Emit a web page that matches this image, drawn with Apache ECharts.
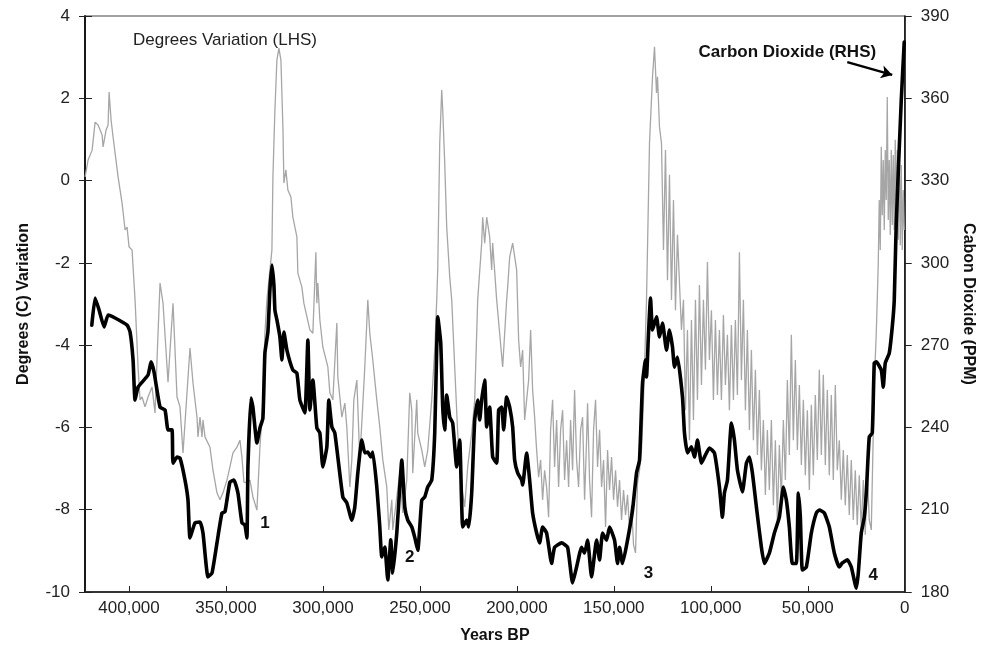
<!DOCTYPE html>
<html>
<head>
<meta charset="utf-8">
<script src="https://cdn.jsdelivr.net/npm/echarts@6/dist/echarts.min.js"></script>
<style>
  html, body { margin: 0; padding: 0; background: #fff; }
  #chart { width: 984px; height: 658px; }
</style>
</head>
<body>
<div id="chart"></div>
<script>
// Vostok ice core: temperature variation (left axis) and CO2 (right axis) against years before present
const yearTicks = [0, 50000, 100000, 150000, 200000, 250000, 300000, 350000, 400000];
const tempTicks = [-10, -8, -6, -4, -2, 0, 2, 4];
const co2Ticks = [180, 210, 240, 270, 300, 330, 360, 390];

// [years BP, degrees C variation]
const tempRecord = [
  [422640,0.09],[421100,0.5],[419030,0.74],[417490,1.42],[415940,1.35],[413880,1.11],[413370,0.82],[411820,1.23],
  [410790,1.35],[410280,2.15],[409250,1.47],[408220,1.06],[405640,0.09],[403580,-0.55],[402030,-1.2],[401010,-1.13],
  [399980,-1.61],[398430,-1.69],[396890,-2.9],[395340,-4.53],[394310,-5.33],[393280,-5.26],[391740,-5.5],[390190,-5.26],
  [388130,-5.02],[386590,-5.65],[385040,-3.71],[384010,-2.49],[382470,-2.98],[379890,-4.9],[377310,-2.98],[375250,-5.26],
  [373710,-5.5],[372170,-6.62],[368560,-4.07],[367010,-4.92],[364950,-5.75],[364440,-6.23],[363410,-5.75],[362380,-6.23],
  [361860,-5.82],[360830,-6.23],[358260,-6.48],[356710,-7.04],[354650,-7.59],[353110,-7.76],[351560,-7.59],[349500,-7.28],
  [347960,-6.96],[346410,-6.62],[344350,-6.48],[342810,-6.31],[341770,-6.72],[340740,-7.33],[339200,-7.35],[337650,-7.28],
  [336110,-7.69],[334050,-8.01],[332500,-6.48],[331470,-5.75],[330960,-5.33],[329930,-3.71],[328890,-2.9],[326320,-1.69],
  [325800,0.09],[324770,1.72],[323740,2.93],[322710,3.22],[321680,2.93],[320650,1.3],[320140,-0.06],[319110,0.26],
  [318080,-0.23],[316530,-0.4],[315500,-0.89],[313440,-1.37],[312930,-2.25],[310870,-2.59],[309840,-2.98],[306740,-3.63],
  [305200,-3.71],[303650,-1.74],[303140,-2.98],[302630,-2.49],[301590,-3.39],[300050,-4.05],[297470,-4.53],[296440,-5.16],
  [294900,-5.33],[292840,-3.46],[292320,-4.77],[290260,-5.75],[288720,-5.41],[287690,-5.99],[287170,-6.48],[286140,-7.45],
  [285110,-6.79],[284080,-5.33],[282530,-4.85],[280990,-6.79],[278420,-4.53],[276870,-2.9],[275840,-3.71],[274300,-4.36],
  [272240,-5.33],[270690,-5.99],[269140,-6.79],[267080,-7.45],[266050,-8.49],[264500,-7.76],[263990,-8.49],[261930,-7.69],
  [260390,-7.11],[258840,-8.08],[256780,-7.28],[255240,-5.16],[254200,-5.58],[253690,-7.11],[251630,-5.33],[251110,-6.14],
  [249050,-6.55],[247510,-6.96],[245960,-6.55],[243900,-5.33],[242360,-4.12],[241330,-2.9],[240810,-2.17],[239780,0.91],
  [238750,2.2],[238240,1.72],[237210,0.43],[236180,-1.13],[234630,-2.34],[233600,-2.9],[232060,-4.53],[230510,-6.14],
  [228450,-7.45],[226900,-7.93],[225360,-6.96],[223300,-6.14],[221750,-5.33],[220210,-2.9],[218150,-1.52],[217630,-0.89],
  [216600,-1.52],[215570,-0.89],[214030,-1.37],[213000,-2.17],[212480,-1.52],[210420,-2.9],[207330,-4.53],[205270,-2.9],
  [204750,-2.59],[203720,-1.86],[202180,-1.52],[201150,-1.52],
  [200120,-2.17],[199090,-3.88],[198060,-4.53],[197030,-4.12],[196000,-5.82],[194970,-5.33],[193940,-4.85],[192910,-3.63],
  [191880,-5.09],[190850,-5.75],[189820,-6.55],[188790,-7.21],[187760,-6.79],[186730,-7.76],[185700,-7.04],[184670,-7.45],
  [183640,-8.18],[182610,-6.06],[181580,-5.33],[180550,-6.96],[179510,-5.82],[178480,-7.45],[177450,-6.06],[176420,-5.58],
  [175390,-7.28],[174360,-6.31],[173330,-7.45],[172300,-5.82],[171270,-7.04],[170240,-5.09],[169210,-6.79],[168180,-7.45],
  [167150,-6.06],[166120,-5.75],[165090,-7.76],[164060,-6.31],[163550,-5.41],[162520,-7.28],[161490,-8.18],[160460,-6.06],
  [159430,-5.33],[158400,-6.96],[157360,-6.06],[156330,-7.45],[155300,-6.79],[154270,-8.42],[153240,-6.55],[152210,-7.52],
  [151180,-6.72],[150150,-7.76],[149120,-7.04],[148090,-7.93],[147060,-7.28],[146030,-8.25],[145000,-7.52],[143970,-8.13],
  [142940,-7.64],[141910,-8.49],[140880,-7.89],[139850,-8.85],[138820,-9.05],[137790,-7.35],[136760,-7.04],[135730,-6.55],
  [134700,-5.33],[134180,-4.53],
  [133150,-2.9],[131610,0.91],[130060,2.52],[129030,3.25],[128000,2.13],[127490,2.52],[126460,1.3],[125430,0.91],
  [124400,-1.69],[123370,0.74],[122340,-2.42],[121310,0.14],[120280,-2.9],[119250,-0.47],[118220,-3.15],[117190,-1.32],
  [116160,-2.49],[115130,-3.63],[114100,-2.9],[113070,-5.58],[112040,-3.63],[111010,-6.31],[109980,-3.39],[108950,-5.82],
  [107920,-2.9],[106890,-5.33],[105860,-2.54],[104830,-4.97],[103800,-2.9],[102770,-4.6],[101740,-1.98],[100710,-4.36],
  [99680,-3.15],[98650,-5.33],[97620,-3.39],[96590,-5.21],[95560,-3.63],[94530,-5.33],[93500,-3.27],[92470,-4.97],
  [91440,-3.75],[90410,-5.58],[89380,-3.51],[88350,-5.33],[87320,-3.39],[86290,-5.21],[85250,-1.74],[84220,-4.85],
  [83190,-2.9],[82160,-5.58],[81130,-3.63],[80100,-6.06],[79070,-4.12],[78040,-6.31],[77010,-4.6],[75980,-6.67],
  [74950,-5.09],[73920,-7.04],[72890,-5.82],[71860,-7.64],[70830,-6.06],[69800,-7.52],[68770,-5.82],[67740,-7.89],
  [66710,-6.31],[65680,-8.25],[64650,-6.43],[63620,-7.76],[62590,-5.82],[61560,-7.28],[60530,-4.85],[59500,-6.67],
  [58470,-3.75],[57440,-6.31],[56410,-4.36],[55370,-6.55],[54340,-4.97],[53310,-6.91],[52280,-5.33],[51250,-7.16],
  [50220,-5.58],[49190,-7.52],[48160,-5.45],[47130,-7.16],[46100,-5.21],[45070,-6.79],[44040,-4.6],[43010,-6.67],
  [41980,-4.72],[40950,-6.91],[39920,-5.09],[38890,-7.16],[37860,-5.21],[36830,-7.28],[35800,-4.97],[34770,-7.04],
  [33740,-6.31],[32710,-7.76],[31680,-6.55],[30650,-7.89],[29620,-6.67],[28590,-8.13],[27560,-6.79],[26530,-8.25],
  [25500,-7.04],[24470,-8.37],[23440,-7.16],[22410,-8.49],[21380,-7.28],[20350,-8.61],[19310,-7.04],[18280,-8.25],
  [17250,-8.49],[16230,-6.14],[15710,-4.92],[14680,-3.71],
  [14170,-2.9],[13650,-2.0],[13140,-0.47],[12620,-1.69],[12100,0.82],[11590,-0.84],[11070,0.5],[10560,-1.2],
  [10040,0.74],[9530,-0.47],[9010,2.03],[8500,-0.96],[7980,0.5],[7470,-1.32],[6950,0.74],[6440,-1.08],
  [5920,0.62],[5410,-1.2],[4890,0.99],[4380,-1.08],[3860,0.74],[3350,-1.44],[2830,0.86],[2320,-1.57],
  [1800,0.38],[1290,-1.69],[770,-0.23],[260,-1.2]
];

// [years BP, CO2 ppm]
const co2Record = [
  [419190,277.3],[417490,287.2],[415430,282.8],[412850,276.6],[410790,281.0],[407190,279.9],[401010,277.3],[399460,274.8],
  [397920,264.6],[396890,250.0],[395340,254.7],[390190,259.1],[388650,263.9],[387100,260.2],[384010,247.4],[381440,246.4],
  [379890,239.1],[377830,239.1],[377310,227.0],[375250,229.2],[373710,228.8],[371130,220.8],[369590,213.5],[368560,199.7],
  [365980,205.2],[363410,205.5],[361860,201.5],[359290,185.5],[357230,186.9],[354650,197.9],[352080,208.8],[350530,209.2],
  [347960,220.1],[345900,220.8],[343840,216.1],[341770,205.2],[340230,204.4],[339200,199.7],[338680,225.6],[337140,250.7],
  [336110,247.4],[334050,234.3],[332500,239.8],[330960,243.4],[329930,267.1],[328380,274.8],[327350,290.1],[326320,299.2],
  [325290,291.9],[324770,282.8],[323740,279.2],[322200,273.0],[321170,264.6],[320140,274.8],[318590,268.2],[315500,260.9],
  [313440,259.8],[311900,250.0],[309320,245.3],[307770,271.9],[306740,246.4],[305200,257.3],[303140,239.8],[301590,238.0],
  [300050,225.6],[297990,232.9],[296960,250.0],[295410,240.2],[293870,238.0],[289750,214.6],[287690,212.5],[285110,206.2],
  [283570,211.0],[282020,223.4],[279960,235.4],[278420,230.7],[276870,231.0],[275330,229.2],[274300,231.0],[272240,218.3],
  [270690,203.7],[269660,192.8],[268120,196.4],[266570,184.4],[265020,199.0],[263990,186.9],[261930,201.5],[260390,218.3],
  [259360,228.1],[257810,211.0],[256270,206.2],[254200,203.7],[252660,199.9],[251110,195.2],[249050,213.5],[247510,214.6],
  [245960,218.3],[243900,220.8],[242360,238.0],[241330,269.3],[240810,280.3],[239270,270.8],[238240,247.4],[237210,239.1],
  [236180,251.8],[234630,243.8],[233090,241.6],[231030,225.6],[229480,235.4],[227930,203.7],[225870,206.2],[224840,203.7],
  [223300,216.1],[221750,242.7],[220210,250.0],[219180,242.7],[218150,250.0],[216600,257.3],[215570,240.2],[214030,247.4],
  [212480,229.2],[210420,227.0],[209390,246.4],[207840,247.4],[206810,239.1],[205270,251.1],[203720,247.4],[202180,240.2],
  [201150,228.1],[199600,223.4],[197540,220.8],[197030,219.0],[194970,230.7],[193420,220.8],[191880,208.8],[189820,201.5],
  [188270,197.9],[186730,203.7],[184670,201.5],[182090,190.4],[180550,196.3],[176940,197.9],[173850,196.3],[171270,183.3],
  [169210,189.1],[166640,196.3],[165090,194.2],[163550,198.9],[161490,185.5],[158910,198.9],[157360,191.7],[155820,201.5],
  [153760,198.9],[152210,203.7],[149640,198.9],[148090,190.4],[147060,196.3],[145510,190.4],[142940,198.9],[140360,209.9],
  [138300,223.4],[136760,228.1],[135210,256.2],[133670,264.6],[133150,258.4],[132120,274.4],[131090,287.2],[130060,275.5],
  [128000,280.3],[126460,273.0],[124910,278.1],[122850,268.2],[121310,275.5],[119760,269.3],[118730,262.0],[117190,265.7],
  [114610,251.1],[113580,238.0],[112030,230.7],[109970,232.9],[108430,229.2],[106880,235.4],[104820,227.0],[103280,229.2],
  [100700,232.5],[98130,230.7],[95550,218.3],[94010,207.3],[92980,216.1],[91430,220.8],[89370,241.6],[87830,235.4],
  [86280,224.5],[83710,216.5],[81640,227.0],[80100,229.2],[78550,223.4],[76490,211.0],[73920,196.3],[72370,190.4],
  [69800,194.2],[67220,201.5],[64650,207.3],[62590,218.3],[61040,213.5],[59500,203.7],[57950,190.4],[55890,190.4],
  [54860,216.1],[53830,207.3],[52800,188.0],[50740,189.1],[48160,201.5],[45590,208.8],[44040,209.9],[41470,208.8],
  [38890,203.7],[36310,194.2],[33740,189.1],[32190,190.6],[29620,191.7],[27560,189.1],[24980,181.4],[23950,186.9],
  [22410,201.5],[20860,207.3],[19830,216.1],[18290,236.5],[16740,238.0],[15710,263.5],[14680,263.9],[12100,260.9],
  [11070,254.7],[10040,263.5],[7980,267.1],[6440,276.6],[5410,286.3],[4380,314.4],[1800,359.2],[260,380.5]
];

// Numbered glacial minima: [label, years BP, degrees]
const minimaLabels = [['1', 329930, -8.32], ['2', 255240, -9.15], ['3', 132120, -9.54], ['4', 16230, -9.59]];

const FONT = "'Liberation Sans', Arial, Helvetica, sans-serif";
const AXIS_COLOR = '#111';
const yearsMax = 422700;

function withCommas(v) {
  return String(v).replace(/\B(?=(\d{3})+(?!\d))/g, ',');
}

const chart = echarts.init(document.getElementById('chart'), null, { renderer: 'canvas' });

const leftAxisBase = {
  type: 'value', position: 'left', min: tempTicks[0], max: tempTicks[tempTicks.length - 1], interval: 2,
  splitLine: { show: false },
  axisLine: { show: true, onZero: false, lineStyle: { color: AXIS_COLOR, width: 1.5 } }
};

chart.setOption({
  animation: false,
  backgroundColor: '#fff',
  grid: { left: 85, right: 78, top: 16, bottom: 66, show: true, borderColor: '#444', borderWidth: 1.2, containLabel: false },
  xAxis: {
    type: 'value', min: 0, max: yearsMax, interval: 50000, inverse: true,
    name: 'Years BP', nameLocation: 'middle', nameGap: 36,
    nameTextStyle: { fontFamily: FONT, fontSize: 16, fontWeight: 'bold', color: '#111' },
    axisLine: { show: true, onZero: false, lineStyle: { color: AXIS_COLOR, width: 1.5 } },
    axisTick: { show: true, inside: true, length: 6, lineStyle: { color: '#222', width: 1 } },
    axisLabel: {
      margin: 8, fontFamily: FONT, fontSize: 17, color: '#222',
      formatter: v => yearTicks.indexOf(v) >= 0 ? withCommas(v) : ''
    },
    splitLine: { show: false }
  },
  yAxis: [
    Object.assign({}, leftAxisBase, {
      name: 'Degrees (C) Variation', nameLocation: 'middle', nameGap: 53,
      nameTextStyle: { fontFamily: FONT, fontSize: 16, fontWeight: 'bold', color: '#111' },
      axisTick: { show: true, inside: false, length: 6, lineStyle: { color: '#222', width: 1 } },
      axisLabel: { margin: 15, fontFamily: FONT, fontSize: 17, color: '#222' }
    }),
    {
      type: 'value', position: 'right', min: co2Ticks[0], max: co2Ticks[co2Ticks.length - 1], interval: 30,
      name: 'Cabon Dioxide (PPM)', nameLocation: 'middle', nameGap: 55, nameRotate: -90,
      nameTextStyle: { fontFamily: FONT, fontSize: 16, fontWeight: 'bold', color: '#111' },
      splitLine: { show: false },
      axisLine: { show: true, onZero: false, lineStyle: { color: AXIS_COLOR, width: 1.5 } },
      axisTick: { show: true, inside: false, length: 7, lineStyle: { color: '#222', width: 1 } },
      axisLabel: { margin: 16, fontFamily: FONT, fontSize: 17, color: '#222' }
    },
    // second left axis: inward half of the crossing tick marks
    Object.assign({}, leftAxisBase, {
      axisTick: { show: true, inside: true, length: 7, lineStyle: { color: '#222', width: 1 } },
      axisLabel: { show: false }
    })
  ],
  series: [
    {
      name: 'Degrees Variation (LHS)', type: 'line', xAxisIndex: 0, yAxisIndex: 0,
      data: tempRecord, showSymbol: false, symbol: 'none',
      lineStyle: { color: '#a6a6a6', width: 1.3 },
      markPoint: {
        symbol: 'circle', symbolSize: 0, silent: true,
        label: { show: true, position: 'inside', fontFamily: FONT, color: '#111' },
        data: [
          { coord: [350540, 3.42], label: { formatter: 'Degrees Variation (LHS)', fontSize: 17, color: '#222' } }
        ].concat(minimaLabels.map(m => ({
          coord: [m[1], m[2]], label: { formatter: m[0], fontSize: 17, fontWeight: 'bold' }
        })))
      }
    },
    {
      name: 'Carbon Dioxide (RHS)', type: 'line', xAxisIndex: 0, yAxisIndex: 1,
      data: co2Record, showSymbol: false, symbol: 'none', smooth: 0.15,
      lineStyle: { color: '#000', width: 3.6, join: 'round', cap: 'round' },
      markPoint: {
        symbol: 'circle', symbolSize: 0, silent: true,
        label: { show: true, position: 'inside', fontFamily: FONT, fontSize: 17, fontWeight: 'bold', color: '#111' },
        data: [{ coord: [60530, 376.9], label: { formatter: 'Carbon Dioxide (RHS)' } }]
      },
      markLine: {
        silent: true, symbol: ['none', 'arrow'], symbolSize: [10, 11],
        lineStyle: { color: '#000', width: 2.4, type: 'solid' },
        label: { show: false },
        data: [[{ coord: [29620, 373.2] }, { coord: [6440, 368.5] }]]
      }
    }
  ]
});
</script>
</body>
</html>
